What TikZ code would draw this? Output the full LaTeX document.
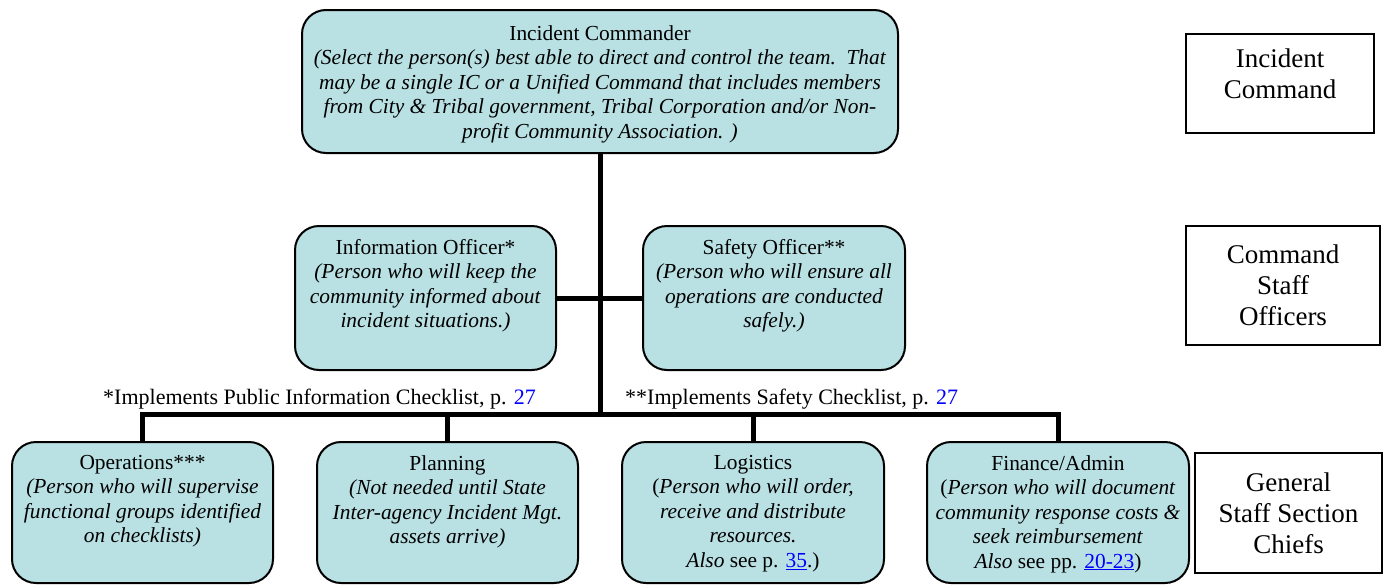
\documentclass[tikz,border=0pt]{standalone}
\usepackage{fontspec}
\setmainfont{Liberation Serif}
\newlength{\du}
\setlength{\du}{1pt}
\definecolor{boxfill}{rgb}{0.725000, 0.878000, 0.890000}
\definecolor{linkblue}{rgb}{0.000000, 0.000000, 1.000000}
\newcommand{\pgref}[1]{\textcolor{linkblue}{#1}}
\newcommand{\pglink}[1]{\textcolor{linkblue}{\underline{#1}}}
\tikzset{
  chief/.style={rectangle, draw=black, line width=2\du, fill=boxfill, rounded corners=24\du, inner sep=0pt},
  tier/.style={rectangle, draw=black, line width=2\du, inner sep=0pt, align=center, font=\fontsize{27}{31}\selectfont},
  boxtext/.style={anchor=north, inner sep=0pt, align=center, font=\fontsize{21.4}{24.5}\selectfont},
  bar/.style={line width=5\du, line join=miter},
  footnote/.style={anchor=base west, inner sep=0pt, font=\fontsize{22}{24}\selectfont}
}
\begin{document}
\begin{tikzpicture}
\pgftransformxscale{1.000000}
\pgftransformyscale{-1.000000}
\useasboundingbox (0\du,0\du) rectangle (1389\du,584\du);
% command level
\node[chief, minimum width=596\du, minimum height=143\du] (ic) at (600\du,81.5\du) {};
\node[boxtext] (ic-t) at (600\du,25\du) {Incident Commander\\
\textit{(Select the person(s) best able to direct and control the team.\ \ That}\\
\textit{may be a single IC or a Unified Command that includes members}\\
\textit{from City \& Tribal government, Tribal Corporation and/or Non-}\\
\textit{profit Community Association. )}};
% command staff
\node[chief, minimum width=261\du, minimum height=144\du] (info) at (425.5\du,298\du) {};
\node[boxtext] (info-t) at (425.5\du,239\du) {Information Officer*\\
\textit{(Person who will keep the}\\
\textit{community informed about}\\
\textit{incident situations.)}};
\node[chief, minimum width=262\du, minimum height=144\du] (safety) at (774\du,298\du) {};
\node[boxtext] (safety-t) at (774\du,239\du) {Safety Officer**\\
\textit{(Person who will ensure all}\\
\textit{operations are conducted}\\
\textit{safely.)}};
\node[footnote] (note1) at (103\du,404\du) {*Implements Public Information Checklist, p. \pgref{27}};
\node[footnote] (note2) at (625\du,404\du) {**Implements Safety Checklist, p. \pgref{27}};
% general staff
\node[chief, minimum width=261\du, minimum height=141\du] (ops) at (142.5\du,512.5\du) {};
\node[boxtext] (ops-t) at (142.5\du,455\du) {Operations***\\
\textit{(Person who will supervise}\\
\textit{functional groups identified}\\
\textit{on checklists)}};
\node[chief, minimum width=261\du, minimum height=141\du] (plan) at (447.5\du,512.5\du) {};
\node[boxtext] (plan-t) at (447.5\du,455\du) {Planning\\
\textit{(Not needed until State}\\
\textit{Inter-agency Incident Mgt.}\\
\textit{assets arrive)}};
\node[chief, minimum width=262\du, minimum height=141\du] (logi) at (753\du,512.5\du) {};
\node[boxtext] (logi-t) at (753\du,455\du) {Logistics\\
(\textit{Person who will order,}\\
\textit{receive and distribute}\\
\textit{resources.}\\
\textit{Also} see p. \pglink{35}.)};
\node[chief, minimum width=262\du, minimum height=141\du] (fin) at (1058\du,512.5\du) {};
\node[boxtext] (fin-t) at (1058\du,455\du) {Finance/Admin\\
(\textit{Person who will document}\\
\textit{community response costs \&}\\
\textit{seek reimbursement}\\
\textit{Also} see pp. \pglink{20-23})};
% tiers
\node[tier, minimum width=188\du, minimum height=99\du] (tier1) at (1280\du,83.5\du) {};
\node[inner sep=0pt, align=center, font=\fontsize{27}{31}\selectfont] (tier1-t) at (1280\du,73.5\du) {Incident\\Command};
\node[tier, minimum width=194\du, minimum height=119\du] (tier2) at (1283\du,285.5\du) {Command\\Staff\\Officers};
\node[tier, minimum width=187\du, minimum height=120\du] (tier3) at (1288.5\du,513\du) {General\\Staff Section\\Chiefs};
% connectors
\coordinate (bus) at (600\du,414\du);
\draw[bar] (ic.south) -- (bus);
\draw[bar] (info.east) -- (safety.west);
\draw[bar] (ops.north) -- (ops.north |- bus) -- (fin.north |- bus) -- (fin.north);
\draw[bar] (plan.north |- bus) -- (plan.north);
\draw[bar] (logi.north |- bus) -- (logi.north);
\end{tikzpicture}
\end{document}
